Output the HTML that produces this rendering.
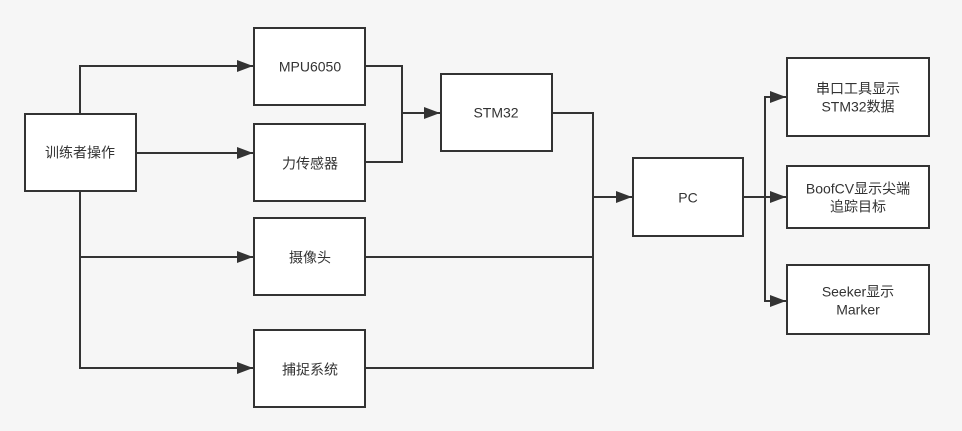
<!DOCTYPE html>
<html><head><meta charset="utf-8"><style>
html,body{margin:0;padding:0;background:#f6f6f6;}
svg{display:block}
text{font-family:"Liberation Sans","Noto Sans CJK SC",sans-serif;font-size:14px;fill:#333;text-anchor:middle;dominant-baseline:middle}
</style></head><body>
<svg width="962" height="431" viewBox="0 0 962 431" xmlns="http://www.w3.org/2000/svg">
<defs><marker id="a" markerWidth="10" markerHeight="10" refX="9" refY="5" orient="auto" markerUnits="userSpaceOnUse"><path d="M0,0 L10,5 L0,10 z" fill="#333"/></marker>
<marker id="b" markerWidth="16" markerHeight="12" refX="16" refY="6" orient="auto" markerUnits="userSpaceOnUse"><path d="M0,0 L16,6 L0,12 z" fill="#333"/></marker></defs>
<g fill="#fff" stroke="#333" stroke-width="2">
<rect x="25" y="114" width="111" height="77"/>
<rect x="254" y="28" width="111" height="77"/>
<rect x="254" y="124" width="111" height="77"/>
<rect x="254" y="218" width="111" height="77"/>
<rect x="254" y="330" width="111" height="77"/>
<rect x="441" y="74" width="111" height="77"/>
<rect x="633" y="158" width="110" height="78"/>
<rect x="787" y="58" width="142" height="78"/>
<rect x="787" y="166" width="142" height="62"/>
<rect x="787" y="265" width="142" height="69"/>
</g>
<g fill="none" stroke="#333" stroke-width="2">
<path d="M80,114 V66 H253" marker-end="url(#b)"/>
<path d="M136,153 H253" marker-end="url(#b)"/>
<path d="M80,191 V368 H253" marker-end="url(#b)"/>
<path d="M80,257 H253" marker-end="url(#b)"/>
<path d="M365,66 H402 V162 H365"/>
<path d="M402,113 H440" marker-end="url(#b)"/>
<path d="M552,113 H593 V368 H365"/>
<path d="M365,257 H593"/>
<path d="M593,197 H632" marker-end="url(#b)"/>
<path d="M743,197 H786" marker-end="url(#b)"/>
<path d="M765,197 V97 H786" marker-end="url(#b)"/>
<path d="M765,197 V301 H786" marker-end="url(#b)"/>
</g>
<text x="80" y="154">训练者操作</text>
<text x="310" y="68">MPU6050</text>
<text x="310" y="165">力传感器</text>
<text x="310" y="259">摄像头</text>
<text x="310" y="371">捕捉系统</text>
<text x="496" y="114">STM32</text>
<text x="688" y="199">PC</text>
<text x="858" y="90">串口工具显示</text>
<text x="858" y="108">STM32数据</text>
<text x="858" y="190">BoofCV显示尖端</text>
<text x="858" y="208">追踪目标</text>
<text x="858" y="293">Seeker显示</text>
<text x="858" y="311">Marker</text>
</svg>
</body></html>
